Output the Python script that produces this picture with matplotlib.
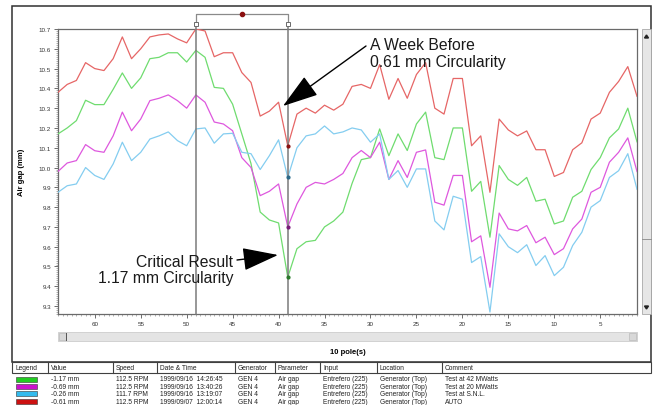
import matplotlib
matplotlib.use("Agg")
import matplotlib.pyplot as plt
from matplotlib.patches import Rectangle, Polygon
from matplotlib.ticker import MultipleLocator, FormatStrFormatter
from matplotlib.transforms import blended_transform_factory

plt.rcParams["font.family"] = ["Liberation Sans", "DejaVu Sans"]

# *******************
# figure size in pixels and plot box (pixels from top-left)
# *******************
W, H = 655, 414
PLOT_L, PLOT_R, PLOT_T, PLOT_B = 58, 637, 30, 315

# *******************
# data, pole 64 -> pole 1
# *******************
POLES = list(range(64, 0, -1))

RED = [10.38, 10.42, 10.44, 10.53, 10.50, 10.49, 10.55, 10.66, 10.55, 10.60,
       10.66, 10.67, 10.675, 10.65, 10.63, 10.70, 10.69, 10.56, 10.58, 10.58,
       10.48, 10.43, 10.26, 10.285, 10.33, 10.11, 10.27, 10.30, 10.275, 10.315,
       10.29, 10.32, 10.41, 10.42, 10.40, 10.52, 10.345, 10.45, 10.35, 10.47,
       10.53, 10.30, 10.27, 10.45, 10.45, 10.11, 10.16, 9.875, 10.245, 10.19,
       10.16, 10.185, 10.09, 10.09, 9.955, 9.975, 10.09, 10.125, 10.245, 10.275,
       10.38, 10.435, 10.51, 10.36]

GREEN = [10.17, 10.20, 10.237, 10.34, 10.318, 10.318, 10.395, 10.478, 10.40, 10.453,
         10.55, 10.557, 10.58, 10.58, 10.533, 10.592, 10.557, 10.405, 10.40, 10.32,
         10.17, 10.02, 9.775, 9.735, 9.72, 9.446, 9.59, 9.625, 9.632, 9.70,
         9.73, 9.775, 9.92, 10.04, 10.05, 10.195, 10.06, 10.17, 10.086, 10.22,
         10.28, 10.05, 10.04, 10.20, 10.20, 9.88, 9.93, 9.648, 10.01, 9.94,
         9.91, 9.95, 9.83, 9.84, 9.715, 9.73, 9.85, 9.88, 9.99, 10.05,
         10.15, 10.195, 10.30, 10.13]

MAGENTA = [9.98, 10.023, 10.035, 10.116, 10.085, 10.077, 10.16, 10.28, 10.186, 10.245,
           10.338, 10.35, 10.367, 10.338, 10.30, 10.367, 10.33, 10.23, 10.22, 10.186,
           10.05, 10.00, 9.858, 9.88, 9.917, 9.70, 9.816, 9.90, 9.925, 9.917,
           9.94, 9.97, 10.05, 10.086, 10.05, 10.128, 9.94, 10.035, 9.95, 10.077,
           10.089, 9.825, 9.81, 9.96, 9.96, 9.625, 9.655, 9.395, 9.77, 9.69,
           9.68, 9.707, 9.62, 9.648, 9.56, 9.59, 9.69, 9.74, 9.875, 9.90,
           10.027, 10.077, 10.15, 9.98]

CYAN = [9.875, 9.908, 9.917, 10.00, 9.96, 9.94, 10.018, 10.128, 10.035, 10.077,
        10.144, 10.16, 10.18, 10.136, 10.11, 10.195, 10.20, 10.123, 10.17, 10.173,
        10.077, 10.07, 9.99, 10.06, 10.14, 9.95, 10.10, 10.16, 10.17, 10.21,
        10.17, 10.18, 10.20, 10.19, 10.128, 10.17, 9.94, 9.985, 9.90, 9.993,
        9.993, 9.73, 9.685, 9.855, 9.84, 9.52, 9.55, 9.27, 9.665, 9.60,
        9.57, 9.61, 9.505, 9.555, 9.454, 9.496, 9.606, 9.673, 9.80, 9.833,
        9.95, 9.984, 10.07, 9.89]

CURSORS = [49, 39]

# legend table
HEADERS = ["Legend", "Value", "Speed", "Date & Time", "Generator",
           "Parameter", "Input", "Location", "Comment"]
VALUES = ["-1.17 mm", "-0.69 mm", "-0.26 mm", "-0.61 mm"]
SPEEDS = ["112.5 RPM", "112.5 RPM", "111.7 RPM", "112.5 RPM"]
TIMES = ["1999/09/16  14:26:45", "1999/09/16  13:40:26",
         "1999/09/16  13:19:07", "1999/09/07  12:00:14"]
GENERATORS = ["GEN 4"] * 4
PARAMETERS = ["Air gap"] * 4
INPUTS = ["Entrefero (225)"] * 4
LOCATIONS = ["Generator (Top)"] * 4
COMMENTS = ["Test at 42 MWatts", "Test at 20 MWatts", "Test at S.N.L.", "AUTO"]

LINE_COLORS = {"red": "#e66666", "green": "#6fdc6f",
               "magenta": "#de58de", "cyan": "#84cdf0"}
DOT_COLORS = {"red": "#8b1010", "green": "#2a7a2a",
              "magenta": "#7a1a7a", "cyan": "#2a6a8a"}
SWATCHES = ["#22cc22", "#cc11cc", "#33bbee", "#cc1111"]

COL_EDGES = [12, 48, 113, 157, 235, 275, 320, 377, 442, 650]
ROW_Y = [380, 387.5, 395, 402.5]


def draw_plot(fig):
    ax = fig.add_axes([PLOT_L / W, 1 - PLOT_B / H,
                       (PLOT_R - PLOT_L) / W, (PLOT_B - PLOT_T) / H])
    series = [("red", RED), ("green", GREEN), ("magenta", MAGENTA), ("cyan", CYAN)]
    for name, vals in series:
        ax.plot(POLES, vals, color=LINE_COLORS[name], lw=0.9, zorder=3)

    ax.set_xlim(64, 1)
    ax.set_ylim(9.26, 10.7)

    ax.xaxis.set_major_locator(MultipleLocator(5))
    ax.xaxis.set_minor_locator(MultipleLocator(0.5))
    ax.yaxis.set_major_locator(MultipleLocator(0.1))
    ax.yaxis.set_minor_locator(MultipleLocator(0.01))
    ax.yaxis.set_major_formatter(FormatStrFormatter("%.1f"))
    ax.tick_params(which="major", length=3, width=0.6, color="#555555",
                   labelsize=4.5, labelcolor="#333333", pad=2)
    ax.tick_params(which="minor", length=1.5, width=0.4, color="#777777")
    for sp in ax.spines.values():
        sp.set_color("#6a6a6a")
        sp.set_linewidth(0.9)

    # cursors and the bracket above them
    trans = blended_transform_factory(ax.transData, ax.transAxes)
    for c in CURSORS:
        ax.plot([c, c], [0, 1.016], transform=trans, clip_on=False,
                color="#7a7a7a", lw=1.1, zorder=4)
        ax.plot([c], [1.016], transform=trans, clip_on=False, marker="s", ms=3,
                mfc="white", mec="#6a6a6a", mew=0.7, zorder=5)
    ax.plot([CURSORS[0], CURSORS[0], CURSORS[1], CURSORS[1]],
            [1.025, 1.053, 1.053, 1.025], transform=trans, clip_on=False,
            color="#8a8a8a", lw=0.9)
    ax.plot([sum(CURSORS) / 2], [1.053], transform=trans, clip_on=False,
            marker="o", ms=3, color="#8b1010", zorder=5)

    # active cursor points
    idx = POLES.index(CURSORS[1])
    for name, vals in series:
        ax.plot([CURSORS[1]], [vals[idx]], marker="o", ms=2, color=DOT_COLORS[name],
                zorder=6)

    ax.set_ylabel("Air gap (mm)", fontsize=5.5, fontweight="bold", labelpad=10)
    ax.set_xlabel("10 pole(s)", fontsize=5.5, fontweight="bold", labelpad=16)
    return ax


def draw_ui(fig):
    ui = fig.add_axes([0, 0, 1, 1], zorder=5)
    ui.set_xlim(0, W)
    ui.set_ylim(H, 0)
    ui.axis("off")
    ui.patch.set_alpha(0)

    # outer frame
    ui.add_patch(Rectangle((12, 7), 639, 356, fill=False, ec="#303030", lw=1.1))

    # right scrollbar
    ui.add_patch(Rectangle((642, 30), 9, 285, fc="#e6e6e6", ec="#a8a8a8", lw=0.6))
    ui.add_patch(Polygon([(644.5, 39), (648.5, 39), (646.5, 36)], color="#222222"))
    ui.add_patch(Polygon([(644.5, 307), (648.5, 307), (646.5, 310)], color="#222222"))
    ui.plot([642, 651], [240, 240], color="#888888", lw=0.6)

    # bottom scrollbar
    ui.add_patch(Rectangle((58, 333), 579, 9, fc="#e4e4e4", ec="#cccccc", lw=0.6))
    ui.add_patch(Rectangle((59, 334), 7, 7, fc="#d8d8d8", ec="#bbbbbb", lw=0.5))
    ui.plot([66, 66], [334, 341], color="#555555", lw=0.7)
    ui.add_patch(Rectangle((629, 334), 7, 7, fc="#d8d8d8", ec="#bbbbbb", lw=0.5))

    # annotations
    arrow = dict(arrowstyle="-|>,head_length=1.4,head_width=0.45", color="black",
                 lw=1, mutation_scale=16, shrinkA=0, shrinkB=0)
    ui.annotate("", xy=(283, 107), xytext=(366, 47), arrowprops=arrow)
    ui.text(370, 54, "A Week Before\n0.61 mm Circularity", fontsize=11.3,
            ha="left", va="center", linespacing=1.15, color="#1a1a1a")
    ui.annotate("", xy=(278, 256), xytext=(237, 261), arrowprops=arrow)
    ui.text(233, 270.5, "Critical Result\n1.17 mm Circularity", fontsize=11.3,
            ha="right", va="center", multialignment="right", linespacing=1.15,
            color="#1a1a1a")

    # legend table
    ui.add_patch(Rectangle((12, 363), 639, 11, fc="white", ec="#404040", lw=0.8))
    for x in COL_EDGES[1:-1]:
        ui.plot([x, x], [363, 374], color="#404040", lw=0.8)
    for x, head in zip(COL_EDGES, HEADERS):
        ui.text(x + 3, 369, head, fontsize=4.8, ha="left", va="center", color="#222222")

    columns = [VALUES, SPEEDS, TIMES, GENERATORS, PARAMETERS, INPUTS, LOCATIONS, COMMENTS]
    for r, y in enumerate(ROW_Y):
        ui.add_patch(Rectangle((16, y - 2.5), 21, 5, fc=SWATCHES[r], ec="#333333", lw=0.4))
        for c, col in enumerate(columns):
            ui.text(COL_EDGES[c + 1] + 3, y, col[r], fontsize=4.8, ha="left",
                    va="center", color="#222222")
    ui.add_patch(Rectangle((0, 406), W, 8, fc="white", ec="none", zorder=10))
    return ui


fig = plt.figure(figsize=(W / 100, H / 100), dpi=100)
fig.patch.set_facecolor("white")
draw_plot(fig)
draw_ui(fig)
fig.savefig("out.png", dpi=100)
plt.close(fig)
